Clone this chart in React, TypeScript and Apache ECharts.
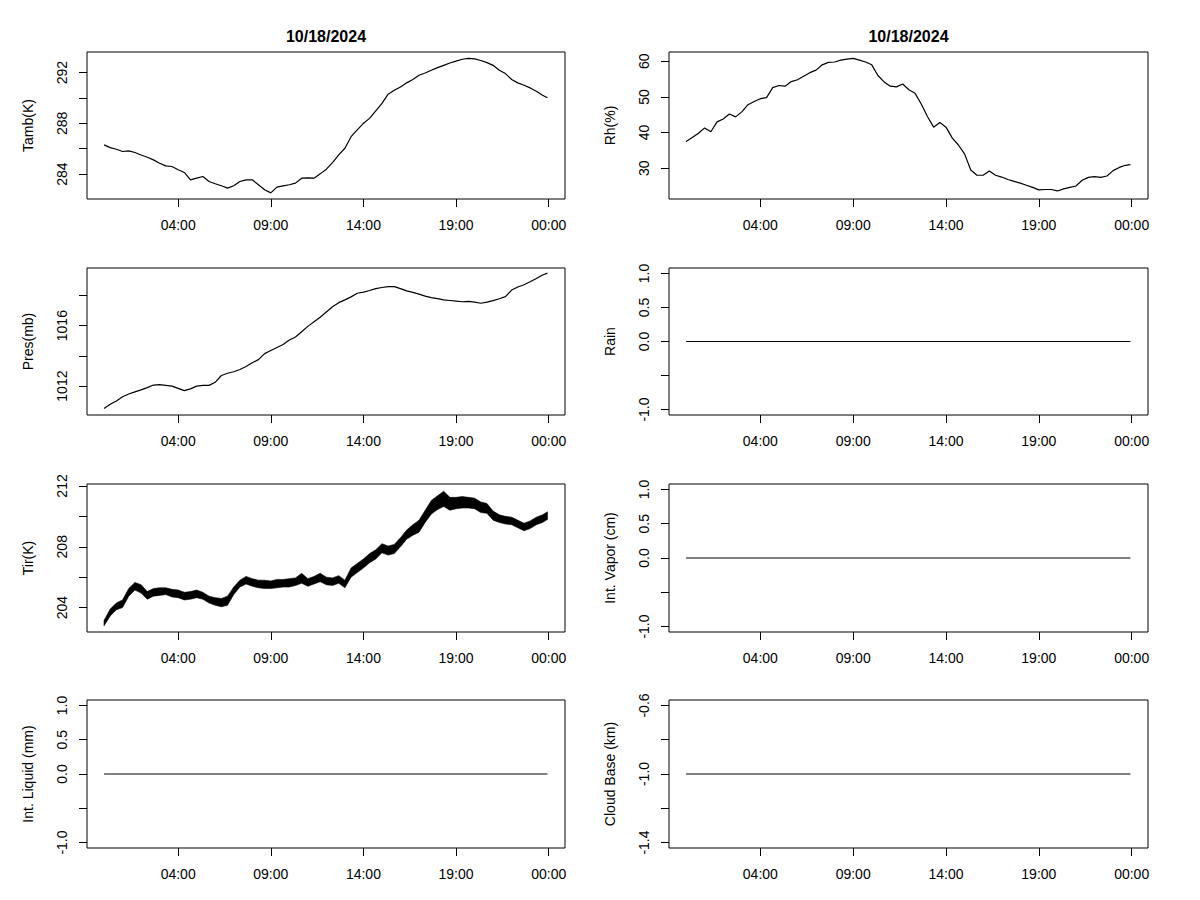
import React, { useEffect, useRef } from "react";
import * as echarts from "echarts";

// sample times (every 20 minutes)
const times = [
  "00:00","00:20","00:40","01:00","01:20","01:40","02:00","02:20","02:40","03:00","03:20","03:40",
  "04:00","04:20","04:40","05:00","05:20","05:40","06:00","06:20","06:40","07:00","07:20","07:40",
  "08:00","08:20","08:40","09:00","09:20","09:40","10:00","10:20","10:40","11:00","11:20","11:40",
  "12:00","12:20","12:40","13:00","13:20","13:40","14:00","14:20","14:40","15:00","15:20","15:40",
  "16:00","16:20","16:40","17:00","17:20","17:40","18:00","18:20","18:40","19:00","19:20","19:40",
  "20:00","20:20","20:40","21:00","21:20","21:40","22:00","22:20","22:40","23:00","23:20","23:40",
  "23:56",
];

const tambValues = [
  286.30,286.09,285.96,285.78,285.83,285.70,285.51,285.33,285.12,284.86,284.65,284.60,
  284.34,284.13,283.55,283.68,283.81,283.42,283.24,283.08,282.90,283.08,283.42,283.55,
  283.55,283.16,282.77,282.52,282.98,283.08,283.16,283.29,283.68,283.71,283.68,284.02,
  284.39,284.91,285.51,286.04,286.95,287.48,288.00,288.39,288.99,289.57,290.30,290.61,
  290.87,291.19,291.45,291.79,291.97,292.18,292.39,292.57,292.75,292.90,293.05,293.12,
  293.08,292.95,292.78,292.57,292.18,291.92,291.45,291.19,291.00,290.79,290.53,290.22,
  290.01,
];

const rhValues = [
  37.5,38.6,39.8,41.3,40.2,43.0,43.8,45.2,44.4,45.8,47.8,48.7,
  49.5,49.8,52.6,53.2,53.0,54.3,54.8,55.8,56.8,57.5,59.0,59.7,
  59.8,60.3,60.6,60.8,60.3,59.8,59.0,56.0,54.2,53.0,52.8,53.6,
  52.0,51.0,48.0,44.5,41.5,42.8,41.5,38.5,36.5,34.0,29.5,28.0,
  28.0,29.2,28.0,27.5,26.8,26.3,25.8,25.2,24.6,23.9,24.0,24.0,
  23.6,24.2,24.6,25.0,26.6,27.4,27.6,27.4,27.8,29.3,30.2,30.8,
  31.0,
];

const presValues = [
  1010.52,1010.80,1011.02,1011.30,1011.48,1011.62,1011.75,1011.90,1012.07,1012.10,1012.05,1012.00,
  1011.85,1011.70,1011.82,1012.00,1012.05,1012.05,1012.25,1012.70,1012.85,1012.95,1013.10,1013.30,
  1013.55,1013.75,1014.15,1014.35,1014.55,1014.75,1015.05,1015.25,1015.60,1015.95,1016.25,1016.55,
  1016.90,1017.25,1017.52,1017.70,1017.90,1018.14,1018.22,1018.32,1018.45,1018.52,1018.58,1018.58,
  1018.45,1018.30,1018.20,1018.08,1017.95,1017.85,1017.78,1017.70,1017.66,1017.62,1017.58,1017.60,
  1017.55,1017.48,1017.55,1017.65,1017.78,1017.92,1018.35,1018.55,1018.70,1018.90,1019.12,1019.35,
  1019.47,
];

// Tir is very noisy: upper and lower edges of the band
const tirHigh = [
  203.15,203.90,204.30,204.50,205.25,205.65,205.50,205.05,205.25,205.30,205.30,205.20,
  205.15,205.00,205.05,205.15,205.00,204.75,204.65,204.60,204.75,205.35,205.80,206.05,
  205.90,205.80,205.80,205.75,205.85,205.85,205.90,205.95,206.25,205.90,206.05,206.25,
  206.00,205.95,206.10,205.80,206.60,206.90,207.20,207.55,207.80,208.20,208.05,208.15,
  208.60,209.10,209.45,209.75,210.40,211.05,211.35,211.65,211.25,211.25,211.30,211.25,
  211.20,210.95,210.85,210.35,210.10,210.00,209.95,209.75,209.55,209.70,209.95,210.10,
  210.30,
];
const tirLow = [
  202.80,203.45,203.85,204.00,204.75,205.15,204.95,204.55,204.75,204.80,204.85,204.70,
  204.65,204.50,204.55,204.65,204.55,204.30,204.15,204.05,204.15,204.85,205.35,205.55,
  205.40,205.30,205.25,205.25,205.30,205.35,205.35,205.45,205.60,205.40,205.55,205.70,
  205.50,205.45,205.60,205.30,206.00,206.30,206.60,206.95,207.20,207.60,207.45,207.55,
  208.00,208.50,208.75,208.95,209.60,210.15,210.45,210.65,210.40,210.50,210.55,210.55,
  210.50,210.25,210.20,209.75,209.60,209.50,209.45,209.25,209.05,209.20,209.45,209.60,
  209.80,
];

const flatTimes = ["00:00", "23:56"];
const rainValues = [0, 0];
const vaporValues = [0, 0];
const liquidValues = [0, 0];
const cloudBaseValues = [-1, -1];

const xTickHours = [4, 9, 14, 19, 24];
const xTickLabels = ["04:00", "09:00", "14:00", "19:00", "00:00"];

const titleText = "10/18/2024";

const toHours = (t: string) => {
  const [h, m] = t.split(":").map(Number);
  return h + m / 60;
};
const pairs = (ts: string[], vs: number[]) => ts.map((t, i) => [toHours(t), vs[i]]);

const FONT = '"Liberation Sans", Arial, sans-serif';

type Panel = {
  name: string;
  col: number;
  row: number;
  min: number;
  max: number;
  ticks: number[];
  labels: number[];
  digits: number;
};

const panels: Panel[] = [
  { name: "Tamb(K)", col: 0, row: 0, min: 282.04, max: 293.62, ticks: [284, 286, 288, 290, 292], labels: [284, 288, 292], digits: 0 },
  { name: "Pres(mb)", col: 0, row: 1, min: 1010.09, max: 1019.81, ticks: [1012, 1014, 1016, 1018], labels: [1012, 1016], digits: 0 },
  { name: "Tir(K)", col: 0, row: 2, min: 202.39, max: 212.13, ticks: [204, 206, 208, 210, 212], labels: [204, 208, 212], digits: 0 },
  { name: "Int. Liquid (mm)", col: 0, row: 3, min: -1.08, max: 1.08, ticks: [-1, -0.5, 0, 0.5, 1], labels: [-1, 0, 0.5, 1], digits: 1 },
  { name: "Rh(%)", col: 1, row: 0, min: 21.34, max: 62.6, ticks: [30, 40, 50, 60], labels: [30, 40, 50, 60], digits: 0 },
  { name: "Rain", col: 1, row: 1, min: -1.08, max: 1.08, ticks: [-1, -0.5, 0, 0.5, 1], labels: [-1, 0, 0.5, 1], digits: 1 },
  { name: "Int. Vapor (cm)", col: 1, row: 2, min: -1.08, max: 1.08, ticks: [-1, -0.5, 0, 0.5, 1], labels: [-1, 0, 0.5, 1], digits: 1 },
  { name: "Cloud Base (km)", col: 1, row: 3, min: -1.432, max: -0.568, ticks: [-1.4, -1.2, -1.0, -0.8, -0.6], labels: [-1.4, -1.0, -0.6], digits: 1 },
];

const colLeft = [87, 669];
const colWidth = [478, 479];
const rowTop = [52, 268, 484, 700];
const rowHeight = [147, 147, 148, 148];

function buildOption() {
  const grid = panels.map((p) => ({
    left: colLeft[p.col],
    top: rowTop[p.row],
    width: colWidth[p.col],
    height: rowHeight[p.row],
    show: true,
    borderColor: "#000",
    borderWidth: 1,
    backgroundColor: "transparent",
  }));

  const xAxis = panels.map((p, i) => ({
    gridIndex: i,
    type: "value",
    min: -0.92,
    max: 24.88,
    axisLine: { show: false, onZero: false },
    splitLine: { show: false },
    axisTick: {
      show: true,
      customValues: xTickHours,
      length: 8,
      lineStyle: { color: "#000", width: 1 },
    },
    axisLabel: {
      show: true,
      customValues: xTickHours,
      formatter: (v: number) => {
        const k = xTickHours.findIndex((h) => Math.abs(h - v) < 1e-6);
        return k >= 0 ? xTickLabels[k] : "";
      },
      margin: 19,
      fontSize: 14,
      color: "#000",
      fontFamily: FONT,
    },
  }));

  const yAxis = panels.map((p, i) => ({
    gridIndex: i,
    type: "value",
    min: p.min,
    max: p.max,
    name: p.name,
    nameLocation: "middle",
    nameGap: 52,
    nameRotate: 90,
    nameTextStyle: { fontSize: 14, color: "#000", fontFamily: FONT },
    axisLine: { show: false, onZero: false },
    splitLine: { show: false },
    axisTick: {
      show: true,
      customValues: p.ticks,
      length: 8,
      lineStyle: { color: "#000", width: 1 },
    },
    axisLabel: {
      show: true,
      customValues: p.labels,
      rotate: 90,
      margin: 18,
      formatter: (v: number) => v.toFixed(p.digits),
      fontSize: 14,
      color: "#000",
      fontFamily: FONT,
    },
  }));

  const lineBase = {
    type: "line",
    showSymbol: false,
    symbol: "none",
    silent: true,
    clip: true,
    lineStyle: { color: "#000", width: 1.2 },
  };

  const tirData = times.map((t, i) => [toHours(t), tirLow[i], tirHigh[i]]);

  const series: any[] = [
    { ...lineBase, xAxisIndex: 0, yAxisIndex: 0, data: pairs(times, tambValues) },
    { ...lineBase, xAxisIndex: 1, yAxisIndex: 1, data: pairs(times, presValues) },
    {
      type: "custom",
      xAxisIndex: 2,
      yAxisIndex: 2,
      silent: true,
      data: tirData,
      encode: { x: 0, y: [1, 2] },
      renderItem: (params: any, api: any) => {
        if (params.dataIndex !== 0) return null;
        const upper = tirData.map((d) => api.coord([d[0], d[2]]));
        const lower = tirData.map((d) => api.coord([d[0], d[1]])).reverse();
        return {
          type: "polygon",
          shape: { points: upper.concat(lower) },
          style: { fill: "#000", stroke: "#000", lineWidth: 0.6 },
        };
      },
    },
    { ...lineBase, xAxisIndex: 3, yAxisIndex: 3, lineStyle: { color: "#000", width: 1 }, data: pairs(flatTimes, liquidValues) },
    { ...lineBase, xAxisIndex: 4, yAxisIndex: 4, data: pairs(times, rhValues) },
    { ...lineBase, xAxisIndex: 5, yAxisIndex: 5, lineStyle: { color: "#000", width: 1 }, data: pairs(flatTimes, rainValues) },
    { ...lineBase, xAxisIndex: 6, yAxisIndex: 6, lineStyle: { color: "#000", width: 1 }, data: pairs(flatTimes, vaporValues) },
    { ...lineBase, xAxisIndex: 7, yAxisIndex: 7, lineStyle: { color: "#000", width: 1 }, data: pairs(flatTimes, cloudBaseValues) },
  ];

  const title = [0, 1].map((c) => ({
    text: titleText,
    left: colLeft[c] + colWidth[c] / 2,
    top: 28,
    padding: 0,
    textAlign: "center",
    textStyle: { fontSize: 16, fontWeight: "bold", color: "#000", fontFamily: FONT },
  }));

  return {
    animation: false,
    backgroundColor: "#fff",
    title,
    grid,
    xAxis,
    yAxis,
    series,
  };
}

export default function App() {
  const ref = useRef<HTMLDivElement>(null);
  useEffect(() => {
    if (!ref.current) return;
    const chart = echarts.init(ref.current, undefined, { renderer: "svg" });
    chart.setOption(buildOption() as any);
    return () => chart.dispose();
  }, []);
  return (
    <div
      ref={ref}
      style={{ position: "absolute", left: 0, top: 0, width: 1200, height: 900, background: "#fff" }}
    />
  );
}
